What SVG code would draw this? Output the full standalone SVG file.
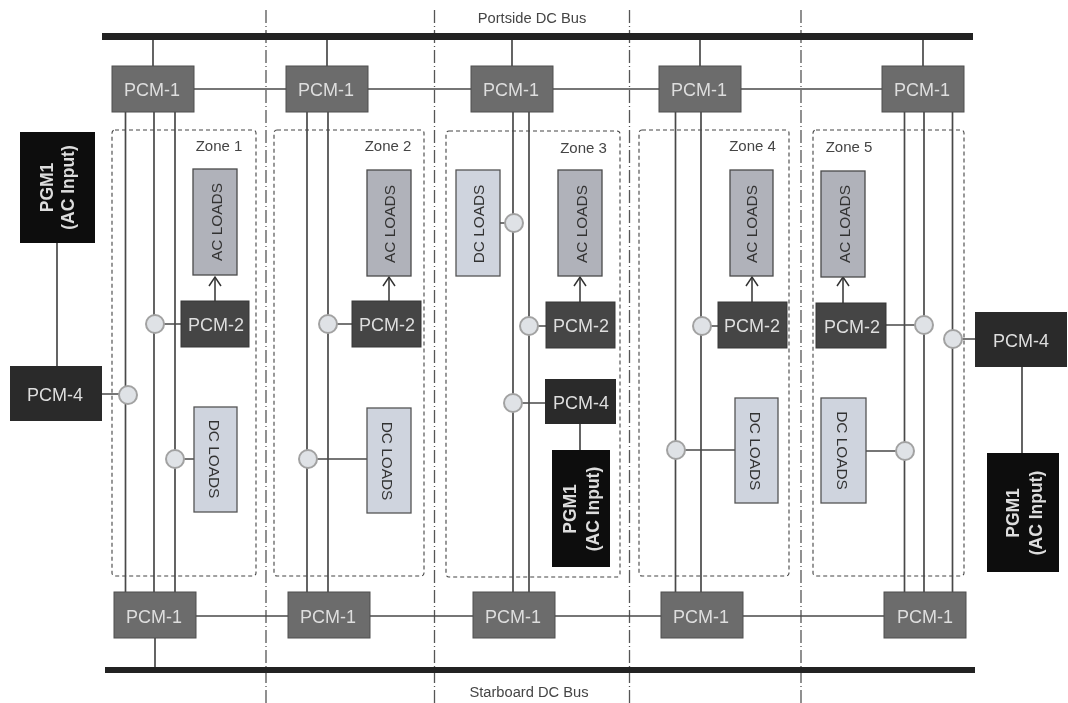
<svg xmlns="http://www.w3.org/2000/svg" width="1068" height="703" viewBox="0 0 1068 703">
<style>
text{font-family:"Liberation Sans",Arial,sans-serif;text-anchor:middle}
.w{stroke:#4a4a4a;stroke-width:1.7;fill:none}
.sep{stroke:#555;stroke-width:1.3;stroke-dasharray:13 3 1 3;fill:none}
.zone{fill:none;stroke:#444;stroke-width:1.1;stroke-dasharray:4 3}
.bus{fill:#222}
.p1{fill:#6c6c6c;stroke:#4f4f4f}
.p2{fill:#454545;stroke:#383838}
.p4{fill:#2a2a2a}
.pg{fill:#111}
.ac{fill:#b0b2ba;stroke:#4a4a4a;stroke-width:1.3}
.dc{fill:#cfd4de;stroke:#555;stroke-width:1.3}
.c{fill:#dfe2e6;stroke:#a2a2a2;stroke-width:2}
.lt{fill:#dedede;font-size:18px}
.pgt{fill:#ddd;font-size:17.5px;font-weight:bold}
.ld{fill:#333;font-size:15.4px}
.z{fill:#444;font-size:15px}
.bl{fill:#444;font-size:14.7px}
</style>
<defs>
<marker id="a" markerWidth="12" markerHeight="14" refX="10" refY="7" orient="auto" markerUnits="userSpaceOnUse"><path d="M1 1L10 7L1 13" fill="none" stroke="#333" stroke-width="1.5"/></marker>
<filter id="soft" x="0" y="0" width="100%" height="100%"><feGaussianBlur stdDeviation="0.45"/></filter>
</defs>
<g filter="url(#soft)">
<rect width="1068" height="703" fill="#fff"/>
<g id="separators">
<path class="sep" d="M266 10V703M434.500 10V703M629.500 10V703M801 10V703"/>
</g>
<g id="zones">
<rect class="zone" x="112" y="130" width="144" height="446" rx="3"/>
<rect class="zone" x="274" y="130" width="150" height="446" rx="3"/>
<rect class="zone" x="446" y="131" width="174" height="446" rx="3"/>
<rect class="zone" x="639" y="130" width="150" height="446" rx="3"/>
<rect class="zone" x="813" y="130" width="151" height="446" rx="3"/>
<text class="z" x="219" y="151">Zone 1</text>
<text class="z" x="388" y="151">Zone 2</text>
<text class="z" x="583.500" y="153">Zone 3</text>
<text class="z" x="752.500" y="151">Zone 4</text>
<text class="z" x="849" y="152">Zone 5</text>
</g>
<g id="buses">
<rect class="bus" x="102" y="33" width="871" height="7"/>
<rect class="bus" x="105" y="667" width="870" height="6"/>
<text class="bl" x="532" y="23">Portside DC Bus</text>
<text class="bl" x="529" y="697">Starboard DC Bus</text>
</g>
<g id="connectors">
<path class="w" d="M153 40V66M327 40V66M512 40V66M700 40V66M923 40V66M155 638V667"/>
<path class="w" d="M194 89H286M368 89H471M553 89H659M741 89H882M196 616H288M370 616H473M555 616H661M743 616H884"/>
<path class="w" d="M125.500 112V592M154 112V592M175 112V592M307 112V592M328 112V592M513 112V592M529 112V592M675.500 112V592M701 112V592M904.500 112V592M924 112V592M952.500 112V592"/>
<path class="w" d="M164 324H181M337 324H352M538 326H546M711 326H718M886 325H915M57 243V366M102 394H119M184 459H194M317 459H367M522 403H545M580 424V450M685 450H735M866 451H896M962 339H975M1022 367V453M505 223H500"/>
<path class="w" marker-end="url(#a)" d="M215 301V277"/>
<path class="w" marker-end="url(#a)" d="M389 301V277"/>
<path class="w" marker-end="url(#a)" d="M580 302V277"/>
<path class="w" marker-end="url(#a)" d="M752 302V277"/>
<path class="w" marker-end="url(#a)" d="M843 303V277"/>
</g>
<g id="junctions">
<circle class="c" cx="155" cy="324" r="9"/><circle class="c" cx="328" cy="324" r="9"/><circle class="c" cx="529" cy="326" r="9"/><circle class="c" cx="702" cy="326" r="9"/><circle class="c" cx="924" cy="325" r="9"/><circle class="c" cx="953" cy="339" r="9"/><circle class="c" cx="128" cy="395" r="9"/><circle class="c" cx="175" cy="459" r="9"/><circle class="c" cx="308" cy="459" r="9"/><circle class="c" cx="513" cy="403" r="9"/><circle class="c" cx="514" cy="223" r="9"/><circle class="c" cx="676" cy="450" r="9"/><circle class="c" cx="905" cy="451" r="9"/>
</g>
<g id="pcm1-top-1"><rect class="p1" x="112" y="66" width="82" height="46"/><text class="lt" x="152" y="96">PCM-1</text></g>
<g id="pcm1-top-2"><rect class="p1" x="286" y="66" width="82" height="46"/><text class="lt" x="326" y="96">PCM-1</text></g>
<g id="pcm1-top-3"><rect class="p1" x="471" y="66" width="82" height="46"/><text class="lt" x="511" y="96">PCM-1</text></g>
<g id="pcm1-top-4"><rect class="p1" x="659" y="66" width="82" height="46"/><text class="lt" x="699" y="96">PCM-1</text></g>
<g id="pcm1-top-5"><rect class="p1" x="882" y="66" width="82" height="46"/><text class="lt" x="922" y="96">PCM-1</text></g>
<g id="pcm1-bot-1"><rect class="p1" x="114" y="592" width="82" height="46"/><text class="lt" x="154" y="623">PCM-1</text></g>
<g id="pcm1-bot-2"><rect class="p1" x="288" y="592" width="82" height="46"/><text class="lt" x="328" y="623">PCM-1</text></g>
<g id="pcm1-bot-3"><rect class="p1" x="473" y="592" width="82" height="46"/><text class="lt" x="513" y="623">PCM-1</text></g>
<g id="pcm1-bot-4"><rect class="p1" x="661" y="592" width="82" height="46"/><text class="lt" x="701" y="623">PCM-1</text></g>
<g id="pcm1-bot-5"><rect class="p1" x="884" y="592" width="82" height="46"/><text class="lt" x="925" y="623">PCM-1</text></g>
<g id="pcm2-1"><rect class="p2" x="181" y="301" width="68" height="46"/><text class="lt" x="216" y="331">PCM-2</text></g>
<g id="pcm2-2"><rect class="p2" x="352" y="301" width="69" height="46"/><text class="lt" x="387" y="331">PCM-2</text></g>
<g id="pcm2-3"><rect class="p2" x="546" y="302" width="69" height="46"/><text class="lt" x="581" y="332">PCM-2</text></g>
<g id="pcm2-4"><rect class="p2" x="718" y="302" width="69" height="46"/><text class="lt" x="752" y="332">PCM-2</text></g>
<g id="pcm2-5"><rect class="p2" x="816" y="303" width="70" height="45"/><text class="lt" x="852" y="333">PCM-2</text></g>
<g id="pcm4-left"><rect class="p4" x="10" y="366" width="92" height="55"/><text class="lt" x="55" y="401">PCM-4</text></g>
<g id="pcm4-mid"><rect class="p4" x="545" y="379" width="71" height="45"/><text class="lt" x="581" y="409">PCM-4</text></g>
<g id="pcm4-right"><rect class="p4" x="975" y="312" width="92" height="55"/><text class="lt" x="1021" y="347">PCM-4</text></g>
<g id="pgm-left"><rect class="pg" x="20" y="132" width="75" height="111"/><text class="pgt" transform="translate(53 187.500) rotate(-90)">PGM1</text><text class="pgt" transform="translate(74 187.500) rotate(-90)">(AC Input)</text></g>
<g id="pgm-mid"><rect class="pg" x="552" y="450" width="58" height="117"/><text class="pgt" transform="translate(576 509) rotate(-90)">PGM1</text><text class="pgt" transform="translate(599 509) rotate(-90)">(AC Input)</text></g>
<g id="pgm-right"><rect class="pg" x="987" y="453" width="72" height="119"/><text class="pgt" transform="translate(1019 513) rotate(-90)">PGM1</text><text class="pgt" transform="translate(1042 513) rotate(-90)">(AC Input)</text></g>
<g id="ac-1"><rect class="ac" x="193" y="169" width="44" height="106"/><text class="ld" transform="translate(222 222) rotate(-90)">AC LOADS</text></g>
<g id="ac-2"><rect class="ac" x="367" y="170" width="44" height="106"/><text class="ld" transform="translate(395 224) rotate(-90)">AC LOADS</text></g>
<g id="ac-3"><rect class="ac" x="558" y="170" width="44" height="106"/><text class="ld" transform="translate(587 224) rotate(-90)">AC LOADS</text></g>
<g id="ac-4"><rect class="ac" x="730" y="170" width="43" height="106"/><text class="ld" transform="translate(757 224) rotate(-90)">AC LOADS</text></g>
<g id="ac-5"><rect class="ac" x="821" y="171" width="44" height="106"/><text class="ld" transform="translate(850 224) rotate(-90)">AC LOADS</text></g>
<g id="dc-3"><rect class="dc" x="456" y="170" width="44" height="106"/><text class="ld" transform="translate(484 224) rotate(-90)">DC LOADS</text></g>
<g id="dc-1"><rect class="dc" x="194" y="407" width="43" height="105"/><text class="ld" transform="translate(208.500 459) rotate(90)">DC LOADS</text></g>
<g id="dc-2"><rect class="dc" x="367" y="408" width="44" height="105"/><text class="ld" transform="translate(382 461) rotate(90)">DC LOADS</text></g>
<g id="dc-4"><rect class="dc" x="735" y="398" width="43" height="105"/><text class="ld" transform="translate(750 451) rotate(90)">DC LOADS</text></g>
<g id="dc-5"><rect class="dc" x="821" y="398" width="45" height="105"/><text class="ld" transform="translate(837 450.500) rotate(90)">DC LOADS</text></g>
</g>
</svg>
